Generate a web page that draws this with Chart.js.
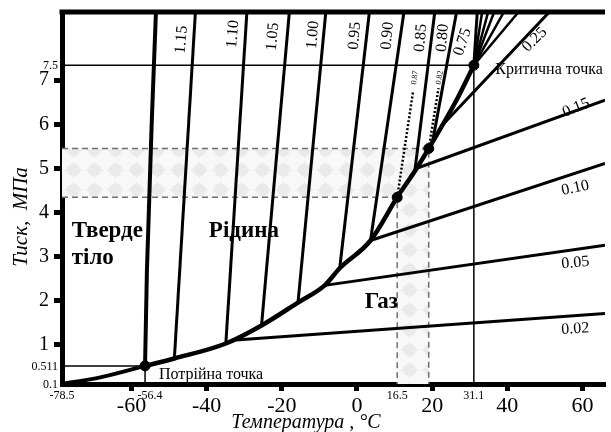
<!DOCTYPE html>
<html><head><meta charset="utf-8">
<script src="https://cdn.jsdelivr.net/npm/chart.js@4"></script>
<style>html,body{margin:0;padding:0;background:#fff}canvas{display:block}</style>
</head><body>
<canvas id="c" width="611" height="432" style="width:611px;height:432px"></canvas>
<script>
// ---------- data (temperature °C, pressure MPa) ----------
const xMajorTicks = [-60, -40, -20, 0, 20, 40, 60];
const yMajorTicks = [1, 2, 3, 4, 5, 6, 7];
const xMinorTickValues = [-78.5, -56.4, 10.7, 31.1];
const xMinorTickLabels = ['-78.5', '-56.4', '16.5', '31.1'];
const yMinorTickValues = [0.1, 0.511, 7.34];
const yMinorTickLabels = ['0.1', '0.511', '7.5'];

const sublimationT = [-78.5, -68.3, -56.4];
const sublimationP = [0.1, 0.25, 0.511];
const meltingT = [-56.4, -55.9, -54.6, -53.5];
const meltingP = [0.511, 2.68, 6.09, 8.55];
const vaporT = [-56.4, -48.6, -34.9, -25.4, -15.7, -8.6, -4.6, 3.6, 10.7, 15.9, 19.1, 26.5, 31.1];
const vaporP = [0.511, 0.68, 1.02, 1.43, 1.95, 2.34, 2.73, 3.36, 4.34, 5.0, 5.45, 6.55, 7.34];

const triplePoint = [-56.4, 0.511];
const criticalPoint = [31.1, 7.34];
const markerT = [-56.4, 10.7, 19.1, 31.1];
const markerP = [0.511, 4.34, 5.45, 7.34];

// liquid-side isochores (density, g/cm3): start on boiling curve, end at top
const liquidLabels = ['1.15', '1.10', '1.05', '1.00', '0.95', '0.90', '0.85', '0.80', '0.75'];
const liquidStartT = [-48.6, -34.9, -25.4, -15.7, -4.6, 3.6, 15.4, 20.1, 31.1];
const liquidStartP = [0.68, 1.02, 1.43, 1.95, 2.73, 3.36, 4.94, 5.60, 7.34];
const liquidTopT = [-43.0, -29.3, -18.0, -8.3, 3.3, 12.5, 20.7, 26.5, 32.0];
const pTop = 8.55;
// unlabeled isochores fanning out of the critical point
const fanTopT = [33.3, 34.9, 36.5, 39.1, 43.0];
// 0.25 isochore
const iso025T = [22.5, 51.2];
const iso025P = [5.96, 8.55];
// gas-side isochores: start on boiling curve, run to right edge
const gasLabels = ['0.15', '0.10', '0.05', '0.02'];
const gasStartT = [15.9, 3.6, -8.6, -32.2];
const gasStartP = [5.0, 3.36, 2.34, 1.10];
const gasEndT = 66;
const gasEndP = [6.55, 5.11, 3.25, 1.70];
// dotted isochores
const dot087T = [10.7, 14.9], dot087P = [4.34, 6.73];
const dot082T = [19.1, 21.7], dot082P = [5.45, 6.82];
// highlighted range
const bandPLow = 4.34, bandPHigh = 5.45, bandTLow = 10.7, bandTHigh = 19.1;

// ---------- helpers ----------
const pts = (T, P) => T.map((t, i) => ({x: t, y: P[i]}));
const line = (data, o = {}) => Object.assign({data, showLine: true, pointRadius: 0, borderColor: '#000',
  borderWidth: 3, fill: false, tension: 0, borderCapStyle: 'butt', order: 2}, o);

function makePattern() {
  const c = document.createElement('canvas'); c.width = 21; c.height = 20;
  const g = c.getContext('2d');
  g.fillStyle = '#f8f8f8'; g.fillRect(0, 0, 21, 20);
  g.fillStyle = '#eaeaea';
  g.beginPath();
  g.moveTo(10.5, 1); g.quadraticCurveTo(12, 8, 20, 10); g.quadraticCurveTo(12, 12, 10.5, 19);
  g.quadraticCurveTo(9, 12, 1, 10); g.quadraticCurveTo(9, 8, 10.5, 1); g.fill();
  g.beginPath(); g.arc(10.5, 10, 6.5, 0, Math.PI * 2); g.fill();
  return g.createPattern(c, 'repeat');
}
const pattern = makePattern();

const datasets = [];
// shaded band (horizontal + vertical parts)
datasets.push(line(pts([-78.5, bandTHigh], [bandPHigh, bandPHigh]), {borderColor: 'rgba(0,0,0,0)', borderWidth: 0, fill: {value: bandPLow}, backgroundColor: pattern, order: 9}));
datasets.push(line(pts([bandTLow, bandTHigh], [bandPLow, bandPLow]), {borderColor: 'rgba(0,0,0,0)', borderWidth: 0, fill: 'start', backgroundColor: pattern, order: 9}));
// dashed guides
datasets.push(line(pts([-78.5, bandTHigh, bandTHigh], [bandPHigh, bandPHigh, 0.1]), {borderColor: '#707070', borderWidth: 1.5, borderDash: [6, 4], order: 8}));
datasets.push(line(pts([-78.5, bandTLow, bandTLow], [bandPLow, bandPLow, 0.1]), {borderColor: '#707070', borderWidth: 1.5, borderDash: [6, 4], order: 8}));
// thin guides at critical & triple points
datasets.push(line(pts([-78.5, criticalPoint[0], criticalPoint[0]], [criticalPoint[1], criticalPoint[1], 0.1]), {borderWidth: 1.5, order: 7}));
datasets.push(line(pts([-78.5, triplePoint[0], triplePoint[0]], [triplePoint[1], triplePoint[1], 0.1]), {borderWidth: 1.5, order: 7}));
// isochores
liquidLabels.forEach((l, i) => datasets.push(line(pts([liquidStartT[i], liquidTopT[i]], [liquidStartP[i], pTop]), {borderWidth: 3})));
fanTopT.forEach(t => datasets.push(line(pts([criticalPoint[0], t], [criticalPoint[1], pTop]), {borderWidth: 2.5})));
datasets.push(line(pts(iso025T, iso025P), {borderWidth: 3}));
gasLabels.forEach((l, i) => datasets.push(line(pts([gasStartT[i], gasEndT], [gasStartP[i], gasEndP[i]]), {borderWidth: 3})));
datasets.push(line(pts(dot087T, dot087P), {borderWidth: 2.5, borderDash: [2, 2]}));
datasets.push(line(pts(dot082T, dot082P), {borderWidth: 2.5, borderDash: [2, 2]}));
// phase boundaries
datasets.push(line(pts(sublimationT, sublimationP), {borderWidth: 4, tension: 0.3, order: 1}));
datasets.push(line(pts(meltingT, meltingP), {borderWidth: 4, order: 1}));
datasets.push(line(pts(vaporT, vaporP), {borderWidth: 4.5, cubicInterpolationMode: 'monotone', order: 1}));
// markers
datasets.push({data: pts(markerT, markerP), showLine: false, pointRadius: 5, pointBackgroundColor: '#000', pointBorderColor: '#000', order: 0});

const SERIF = 'Liberation Serif, Times New Roman, serif';

const textPlugin = {
  id: 'texts',
  afterDraw(chart) {
    const {ctx, chartArea: a} = chart;
    const X = chart.scales.x, Y = chart.scales.y;
    const px = v => X.getPixelForValue(v), py = v => Y.getPixelForValue(v);
    ctx.save();
    // top frame
    ctx.strokeStyle = '#000'; ctx.lineWidth = 5;
    ctx.beginPath(); ctx.moveTo(a.left - 2.5, a.top); ctx.lineTo(a.right, a.top); ctx.stroke();
    ctx.fillStyle = '#000';
    const txt = (s, x, y, font, align = 'center', base = 'middle', rot = 0) => {
      ctx.save(); ctx.translate(x, y); ctx.rotate(rot * Math.PI / 180);
      ctx.font = font; ctx.textAlign = align; ctx.textBaseline = base;
      ctx.fillText(s, 0, 0); ctx.restore();
    };
    // minor tick labels
    xMinorTickValues.forEach((v, i) => txt(xMinorTickLabels[i], px(v) + (i === 1 ? 5 : 0), a.bottom + 6, '12px ' + SERIF, 'center', 'top'));
    yMinorTickValues.forEach((v, i) => txt(yMinorTickLabels[i], a.left - 4, py(v) + 1, '12px ' + SERIF, 'right', 'middle'));
    // axis titles
    txt('Температура , °C', 306, 423, 'italic 20px ' + SERIF);
    txt('Тиск,  МПа', 21, 217, 'italic 21px ' + SERIF, 'center', 'middle', -90);
    // region labels
    const B = 'bold 23px ' + SERIF;
    txt('Тверде', px(-75.9), py(3.58), B, 'left');
    txt('тіло', px(-75.9), py(2.96), B, 'left');
    txt('Рідина', px(-30.1), py(3.58), B);
    txt('Газ', px(6.5), py(1.97), B);
    txt('Критична точка', px(36.8), py(7.24), '16px ' + SERIF, 'left');
    txt('Потрійна точка', px(-52.7), py(0.30), '16px ' + SERIF, 'left');
    // isochore labels
    const liqPos = [[-46.7, 7.92], [-33.0, 8.05], [-22.4, 7.99], [-11.7, 8.03], [-0.6, 8.01], [8.1, 8.01], [17.0, 7.96], [22.8, 7.96], [28.1, 7.87]];
    liquidLabels.forEach((l, i) => txt(l, px(liqPos[i][0]), py(liqPos[i][1]), '16px ' + SERIF, 'center', 'middle', i === 8 ? -72 : -85));
    txt('0.25', px(47.3), py(7.92), '16px ' + SERIF, 'center', 'middle', -45);
    const gasPos = [[58.3, 6.37, -22], [58.1, 4.55, -12], [58.1, 2.85, -5], [58.1, 1.35, -3]];
    gasLabels.forEach((l, i) => txt(l, px(gasPos[i][0]), py(gasPos[i][1]), '16px ' + SERIF, 'center', 'middle', gasPos[i][2]));
    txt('0.87', px(15.4), py(7.06), '8px ' + SERIF, 'center', 'middle', -82);
    txt('0.82', px(22.0), py(7.06), '8px ' + SERIF, 'center', 'middle', -82);
    ctx.restore();
  }
};

new Chart(document.getElementById('c'), {
  type: 'scatter',
  data: {datasets},
  plugins: [textPlugin],
  options: {
    responsive: false, animation: false, devicePixelRatio: 1,
    layout: {padding: {top: 12, left: 0, right: 0, bottom: 0}},
    plugins: {legend: {display: false}, tooltip: {enabled: false}},
    scales: {
      x: {
        type: 'linear', min: -78.5, max: 66,
        afterFit: s => { s.height = 48; s.paddingLeft = 0; s.paddingRight = 0; s.paddingTop = 0; s.paddingBottom = 0; },
        afterBuildTicks: s => { s.ticks = xMajorTicks.map(v => ({value: v})); },
        ticks: {font: {family: SERIF, size: 22}, color: '#000', padding: 2, maxRotation: 0, autoSkip: false, callback: v => String(v)},
        grid: {drawOnChartArea: false, drawTicks: true, tickLength: 7, tickWidth: 5, tickColor: '#000'},
        border: {display: true, width: 5, color: '#000'}
      },
      y: {
        type: 'linear', min: 0.1, max: 8.55,
        afterFit: s => { s.width = 62; s.paddingTop = 0; s.paddingBottom = 0; s.paddingLeft = 0; s.paddingRight = 0; },
        afterBuildTicks: s => { s.ticks = yMajorTicks.map(v => ({value: v})); },
        ticks: {font: {family: SERIF, size: 20}, color: '#000', padding: 5, autoSkip: false, callback: v => String(v)},
        grid: {drawOnChartArea: false, drawTicks: true, tickLength: 8, tickWidth: 5, tickColor: '#000'},
        border: {display: true, width: 5, color: '#000'}
      }
    }
  }
});
</script>
</body></html>
